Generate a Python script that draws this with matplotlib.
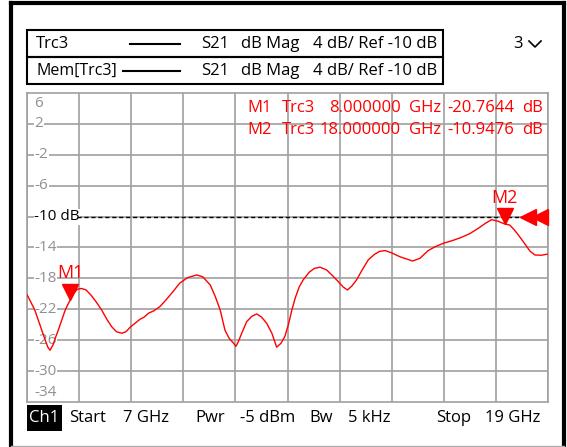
import numpy as np
import matplotlib
matplotlib.use("Agg")
import matplotlib.pyplot as plt
from matplotlib.patches import Rectangle
from matplotlib.lines import Line2D
import matplotlib.transforms as mtransforms

plt.rcParams['font.family'] = ['Open Sans', 'DejaVu Sans']

# trace (GHz, dB)
freq_ghz = [7.00, 7.10, 7.18, 7.26, 7.34, 7.42, 7.48, 7.53, 7.60, 7.66, 7.72, 7.80,
            7.88, 7.94, 8.00, 8.08, 8.16, 8.26, 8.36, 8.48, 8.60, 8.72, 8.84, 8.95,
            9.06, 9.18, 9.28, 9.38, 9.49, 9.60, 9.70, 9.80, 9.92, 10.06, 10.20, 10.35,
            10.52, 10.70, 10.91, 11.05, 11.22, 11.34, 11.45, 11.56, 11.66, 11.76, 11.81,
            11.86, 11.96, 12.06, 12.18, 12.29, 12.40, 12.52, 12.64, 12.75, 12.85, 12.94,
            13.02, 13.10, 13.18, 13.27, 13.36, 13.50, 13.62, 13.75, 13.90, 14.02, 14.15,
            14.28, 14.38, 14.48, 14.59, 14.72, 14.86, 15.00, 15.12, 15.25, 15.40, 15.59,
            15.75, 15.88, 16.05, 16.24, 16.40, 16.59, 16.80, 17.00, 17.20, 17.40, 17.55,
            17.70, 17.85, 18.00, 18.12, 18.22, 18.32, 18.45, 18.59, 18.70, 18.85, 19.00]
s21_db = [-20.1, -21.2, -22.1, -23.4, -24.7, -26.0, -26.9, -27.3, -26.6, -25.6, -24.7, -23.4,
          -22.1, -21.4, -20.76, -19.9, -19.4, -19.3, -19.5, -20.2, -21.1, -22.1, -23.3, -24.25,
          -24.9, -25.1, -24.9, -24.3, -23.8, -23.3, -23.0, -22.5, -22.2, -21.65, -20.8, -19.8,
          -18.6, -17.9, -17.55, -17.8, -18.85, -20.4, -22.1, -24.7, -25.8, -26.4, -26.8,
          -26.3, -24.9, -23.6, -22.9, -22.6, -23.0, -23.8, -25.1, -26.9, -26.4, -25.5,
          -24.0, -22.1, -20.5, -19.1, -18.2, -17.2, -16.7, -16.55, -16.9, -17.55, -18.3,
          -19.1, -19.5, -19.0, -18.2, -16.9, -15.6, -14.9, -14.5, -14.4, -14.7, -15.2,
          -15.5, -15.75, -15.4, -14.4, -13.9, -13.45, -13.1, -12.7, -12.2, -11.5, -10.9,
          -10.4, -10.6, -10.95, -11.1, -11.7, -12.4, -13.4, -14.5, -14.97, -15.0, -14.85]

marker_names = ["M1", "M2"]
marker_freq = [8.0, 18.0]
marker_db = [-20.7644, -10.9476]

y_ticks = [2, -2, -6, -10, -14, -18, -22, -26, -30]
ref_level = -10

W, H = 567, 447
FS = 12
fig = plt.figure(figsize=(W / 100, H / 100), dpi=100)


def fx(x):
    return x / W


def fy(y):
    return 1 - y / H


ax = fig.add_axes([fx(27), fy(402), fx(548) - fx(27), fy(93) - fy(402)])
ax.set_xlim(7, 19)
ax.set_ylim(-34, 6)
ax.set_xticks(np.linspace(7, 19, 11))
ax.set_yticks(np.arange(-30, 6, 4))
ax.tick_params(length=0, labelbottom=False, labelleft=False)
ax.grid(True, color='#a0a0a0', lw=1.2)
for sp in ax.spines.values():
    sp.set_color('#a0a0a0')
    sp.set_linewidth(1.2)

# reference line
ax.plot([8.15, 19], [ref_level, ref_level], color='black', lw=1, ls=(0, (3, 2)), zorder=3)

# y labels inside the grid, grey, on white
for v in y_ticks + [6, -34]:
    if v == ref_level:
        continue
    yy = v if v not in (6, -34) else (v - 1.3 if v == 6 else v + 1.2)
    ax.text(7.17, yy, str(v), color='#909090', fontsize=11, va='center', ha='left',
            bbox=dict(facecolor='white', edgecolor='none', pad=0.3), zorder=2)
ax.text(7.17, ref_level, "-10 dB", color='black', fontsize=11, va='center', ha='left',
        bbox=dict(facecolor='white', edgecolor='none', pad=0.3), zorder=2)

ax.plot(freq_ghz, s21_db, color='#ff0000', lw=1, zorder=4)

# markers
for name, f, d in zip(marker_names, marker_freq, marker_db):
    tr = mtransforms.offset_copy(ax.transData, fig=fig, x=0, y=8 / 100 * 72, units='points')
    ax.plot([f], [d], marker='v', ms=11.5, color='#ff0000', transform=tr, clip_on=False, zorder=5)
    tr2 = mtransforms.offset_copy(ax.transData, fig=fig, x=0, y=19, units='points')
    ax.text(f, d, name, color='#ff0000', fontsize=13, ha='center', va='center', transform=tr2)

# ref level arrows at right edge
for xo in [-20, -8]:
    tr = mtransforms.offset_copy(ax.transData, fig=fig, x=xo * 0.72, y=0, units='points')
    ax.plot([19], [ref_level], marker='<', ms=11.5, color='#ff0000', transform=tr,
            clip_on=False, zorder=5)

# marker readout
rows = [("M1", "Trc3", "8.000000", "GHz", "-20.7644", "dB"),
        ("M2", "Trc3", "18.000000", "GHz", "-10.9476", "dB")]
for i, r in enumerate(rows):
    yy = fy(108 + 22 * i)
    kw = dict(color='#ff0000', fontsize=FS, va='center')
    fig.text(fx(247), yy, r[0], ha='left', **kw)
    fig.text(fx(282), yy, r[1], ha='left', **kw)
    fig.text(fx(401), yy, r[2], ha='right', **kw)
    fig.text(fx(409), yy, r[3], ha='left', **kw)
    fig.text(fx(514), yy, r[4], ha='right', **kw)
    fig.text(fx(522), yy, r[5], ha='left', **kw)

# trace legend boxes
for i, name in enumerate(["Trc3", "Mem[Trc3]"]):
    top = 30 + 27 * i
    fig.patches.append(Rectangle((fx(27), fy(top + 27)), fx(443) - fx(27), fy(top) - fy(top + 27),
                                 transform=fig.transFigure, fill=False, ec='black', lw=1.5))
    yy = fy(top + 14)
    fig.text(fx(36), yy, name, fontsize=FS if i == 0 else 11.5, va='center', ha='left')
    fig.lines.append(Line2D([fx(123 if i else 130), fx(180)], [yy, yy], color='black', lw=1.5,
                            transform=fig.transFigure))
    fig.text(fx(201), yy, "S21", fontsize=FS, va='center', ha='left')
    fig.text(fx(241), yy, "dB Mag", fontsize=FS, va='center', ha='left')
    fig.text(fx(313), yy, "4 dB/ Ref -10 dB", fontsize=FS, va='center', ha='left')
fig.text(fx(513), fy(44), "3", fontsize=FS, va='center', ha='left')
fig.lines.append(Line2D([fx(529), fx(535), fx(541)], [fy(41), fy(47), fy(41)], color='black',
                        lw=1.2, transform=fig.transFigure))

# channel info line
fig.patches.append(Rectangle((fx(27), fy(431)), fx(62) - fx(27), fy(405) - fy(431),
                             transform=fig.transFigure, fc='black', ec='none'))
fig.text(fx(44.5), fy(418), "Ch1", color='white', fontsize=FS, va='center', ha='center')
for x, s in [(69, "Start"), (123, "7 GHz"), (195, "Pwr"), (240, "-5 dBm"), (309, "Bw"),
             (348, "5 kHz"), (436, "Stop"), (485, "19 GHz")]:
    fig.text(fx(x), fy(418), s, fontsize=FS, va='center', ha='left')

# window frame
for xs, ys, c, lw in [([11, 11], [3, 446], 'black', 3), ([11, 564], [3, 3], 'black', 3),
                      ([564, 564], [3, 446], 'black', 3), ([11, 564], [445.5, 445.5], '#b0b0b0', 1)]:
    fig.lines.append(Line2D([fx(x) for x in xs], [fy(y) for y in ys], color=c, lw=lw,
                            transform=fig.transFigure))

fig.savefig("out.png", dpi=100)
